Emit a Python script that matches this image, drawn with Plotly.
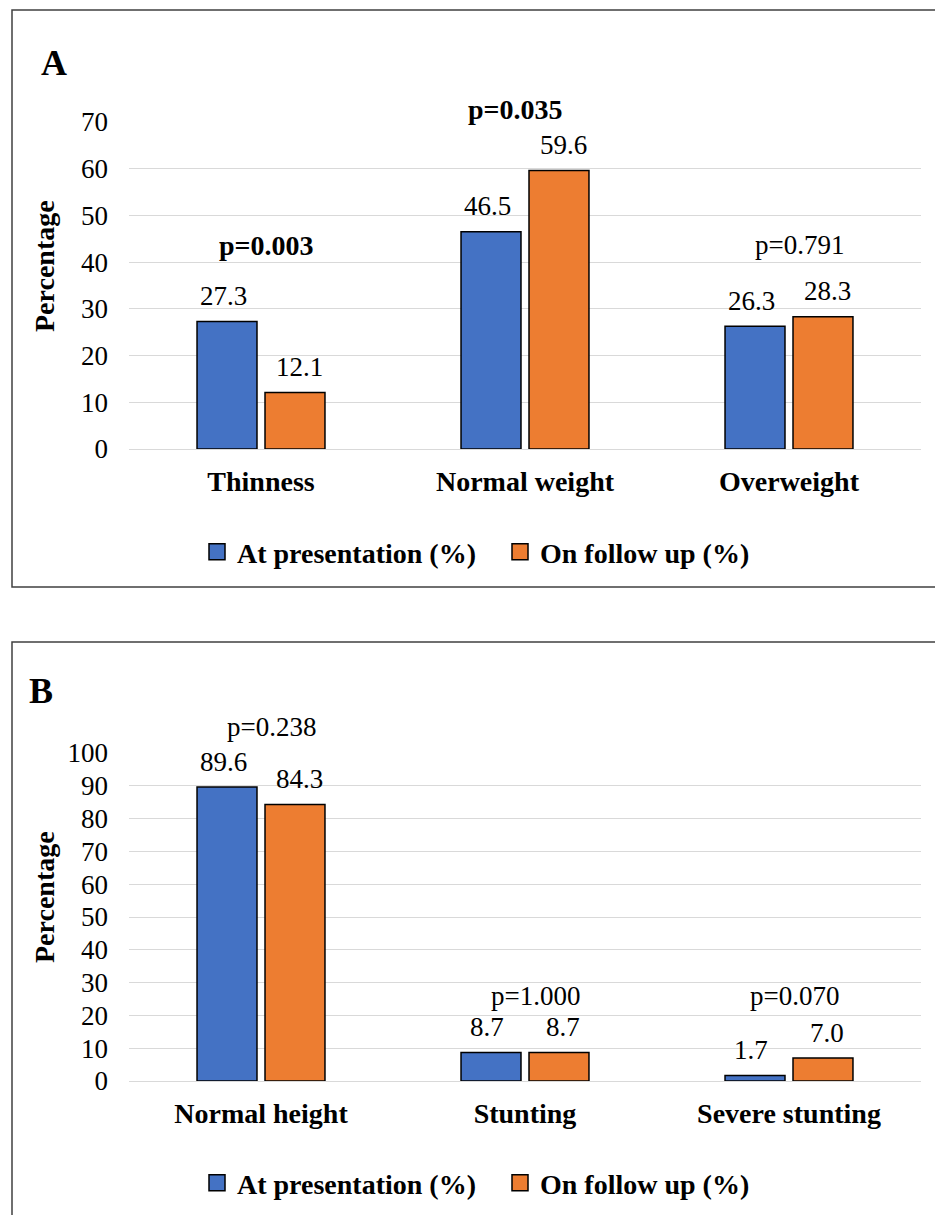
import plotly.graph_objects as go

W, H = 935, 1215

# ---------------- data ----------------
cats_a = ["Thinness", "Normal weight", "Overweight"]
pres_a = [27.3, 46.5, 26.3]
follow_a = [12.1, 59.6, 28.3]
pvals_a = ["p=0.003", "p=0.035", "p=0.791"]
pbold_a = [True, True, False]
py_a = [43.6, 72.6, 43.6]

cats_b = ["Normal height", "Stunting", "Severe stunting"]
pres_b = [89.6, 8.7, 1.7]
follow_b = [84.3, 8.7, 7.0]
pvals_b = ["p=0.238", "p=1.000", "p=0.070"]
pbold_b = [False, False, False]
py_b = [107.9, 25.8, 25.8]

series_names = ["At presentation (%)", "On follow up (%)"]
colors = ["#4472C4", "#ED7D31"]

FONT = "Liberation Serif"


def px(x):
    return x / W


def py(y):
    return 1 - y / H


fig = go.Figure()

for (pres, follow, cats, xa, ya, leg) in [
    (pres_a, follow_a, cats_a, "x", "y", "legend"),
    (pres_b, follow_b, cats_b, "x2", "y2", "legend2"),
]:
    for name, vals, col in zip(series_names, [pres, follow], colors):
        fig.add_trace(go.Bar(
            x=cats, y=vals, name=name, xaxis=xa, yaxis=ya,
            marker=dict(color=col, line=dict(color="black", width=1.5)),
            showlegend=False,
        ))
    # legend entries (larger square swatches)
    for name, col in zip(series_names, colors):
        fig.add_trace(go.Scatter(
            x=[None], y=[None], mode="markers", name=name, xaxis=xa, yaxis=ya,
            legend=leg, showlegend=True, hoverinfo="skip",
            marker=dict(symbol="square", size=16, color=col,
                        line=dict(color="black", width=1.5)),
        ))

annotations = []
# value labels
for cats, pres, follow, xr, yr in [
    (cats_a, pres_a, follow_a, "x", "y"),
    (cats_b, pres_b, follow_b, "x2", "y2"),
]:
    for vals, shift in [(pres, -38), (follow, 38)]:
        for c, v in zip(cats, vals):
            annotations.append(dict(
                x=c, y=v, xref=xr, yref=yr, text=f"{v:.1f}", showarrow=False,
                xshift=shift, yshift=25.5, yanchor="middle",
                font=dict(family=FONT, size=27, color="black"),
            ))

# p-values (values above the axis maximum are placed at the max + pixel shift)
pshifts_a = [5, -10, 10]
pshifts_b = [10, 10, 5]
for cats, pv, pb, pyv, shifts, xr, yr, ymax, ppu in [
    (cats_a, pvals_a, pbold_a, py_a, pshifts_a, "x", "y", 70, 327 / 70),
    (cats_b, pvals_b, pbold_b, py_b, pshifts_b, "x2", "y2", 100, 328 / 100),
]:
    for c, t, b, yv, s in zip(cats, pv, pb, pyv, shifts):
        yy = min(yv, ymax)
        annotations.append(dict(
            x=c, y=yy, xref=xr, yref=yr, text=t, showarrow=False,
            xshift=s, yshift=(yv - yy) * ppu, yanchor="middle",
            font=dict(family=FONT, size=28 if b else 27, color="black",
                      weight="bold" if b else "normal"),
        ))

# panel letters
annotations.append(dict(x=px(39), y=py(63.5), xref="paper", yref="paper", text="A",
                        showarrow=False, xanchor="left", yanchor="middle",
                        font=dict(family=FONT, size=36, color="black", weight="bold")))
annotations.append(dict(x=px(27), y=py(691), xref="paper", yref="paper", text="B",
                        showarrow=False, xanchor="left", yanchor="middle",
                        font=dict(family=FONT, size=36, color="black", weight="bold")))
# y titles
for yc in [266, 897]:
    annotations.append(dict(x=px(44), y=py(yc), xref="paper", yref="paper",
                            text="Percentage", showarrow=False, textangle=-90,
                            xanchor="center", yanchor="middle",
                            font=dict(family=FONT, size=28, color="black", weight="bold")))

shapes = [
    dict(type="rect", xref="paper", yref="paper", x0=px(12), x1=px(980),
         y0=py(10), y1=py(587), line=dict(color="#404040", width=1.5)),
    dict(type="rect", xref="paper", yref="paper", x0=px(12), x1=px(980),
         y0=py(642), y1=py(1260), line=dict(color="#404040", width=1.5)),
]

xcommon = dict(domain=[px(129), px(921)], showgrid=False, showline=True,
               linecolor="#D9D9D9", linewidth=1, ticks="", ticklabelstandoff=7,
               automargin=False,
               tickfont=dict(family=FONT, size=28, color="black", weight="bold"),
               fixedrange=True)
ycommon = dict(dtick=10, showgrid=True, gridcolor="#D9D9D9", gridwidth=1,
               zeroline=True, zerolinecolor="#D9D9D9", zerolinewidth=1,
               showline=False, ticks="", ticklabelstandoff=20, automargin=False,
               tickfont=dict(family=FONT, size=27, color="black"))

legcommon = dict(orientation="h", xanchor="left", yanchor="middle",
                 bgcolor="rgba(0,0,0,0)", entrywidth=258, traceorder="normal",
                 font=dict(family=FONT, size=28, color="black", weight="bold"))

fig.update_layout(
    width=W, height=H,
    margin=dict(l=0, r=0, t=0, b=0, pad=0, autoexpand=False),
    paper_bgcolor="white", plot_bgcolor="white",
    barmode="group", bargap=0.485, bargroupgap=0.118,
    xaxis=dict(**xcommon, anchor="y"),
    yaxis=dict(**ycommon, domain=[py(449), py(122)], range=[0, 70], anchor="x"),
    xaxis2=dict(**xcommon, anchor="y2"),
    yaxis2=dict(**ycommon, domain=[py(1081), py(753)], range=[0, 100], anchor="x2"),
    legend=dict(**legcommon, x=px(197), y=py(552)),
    legend2=dict(**legcommon, x=px(197), y=py(1183)),
    annotations=annotations,
    shapes=shapes,
    showlegend=True,
)

fig.write_html(
    "out.html",
    config={"displayModeBar": False},
    post_script="document.body.style.margin='0';document.body.style.overflow='hidden';",
)
